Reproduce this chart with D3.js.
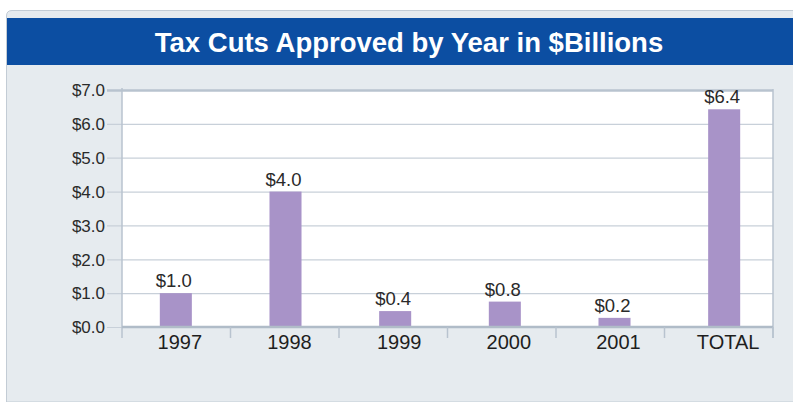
<!DOCTYPE html>
<html>
<head>
<meta charset="utf-8">
<script src="https://cdn.jsdelivr.net/npm/d3@7"></script>
<style>
  html, body { margin: 0; padding: 0; background: #ffffff; }
  svg { display: block; }
</style>
</head>
<body>
<svg id="chart" width="793" height="402"></svg>
<script>
const categories = ["1997", "1998", "1999", "2000", "2001", "TOTAL"];
const values = [1.0, 4.0, 0.47, 0.75, 0.27, 6.43];
const valueLabels = ["$1.0", "$4.0", "$0.4", "$0.8", "$0.2", "$6.4"];
const yTicks = [0, 1, 2, 3, 4, 5, 6, 7];
const title = "Tax Cuts Approved by Year in $Billions";

const svg = d3.select("#chart");
const font = "'Liberation Sans', Arial, Helvetica, sans-serif";

// panel
svg.append("path")
  .attr("d", "M6.5,402 L6.5,16 Q6.5,10.5 12,10.5 L800,10.5 L800,402 Z")
  .attr("fill", "#e6ebef").attr("stroke", "#c3ccd5").attr("stroke-width", 1);
svg.append("rect").attr("x", 7).attr("y", 18).attr("width", 800).attr("height", 47)
  .attr("fill", "#0c4ea2");
svg.append("text").attr("x", 409).attr("y", 52)
  .attr("text-anchor", "middle").attr("font-family", font).attr("font-weight", "bold")
  .attr("font-size", 27.5).attr("fill", "#ffffff").text(title);

const plot = { left: 122, right: 773, top: 90, bottom: 327 };

const y = d3.scaleLinear().domain([0, 7]).range([plot.bottom, plot.top]);
const xGrid = d3.scaleBand().domain(categories).range([plot.left, plot.right]).padding(0);
const xBar = d3.scaleBand().domain(categories).range([121, 779]).paddingInner(0.708).paddingOuter(0.354);

// plot background
svg.append("rect").attr("x", plot.left).attr("y", plot.top)
  .attr("width", plot.right - plot.left).attr("height", plot.bottom - plot.top).attr("fill", "#ffffff");

// gridlines + y axis labels
const yAxis = d3.axisLeft(y).tickValues(yTicks).tickSize(plot.right - 107)
  .tickFormat(d => "$" + d.toFixed(1)).tickPadding(2);
const gy = svg.append("g").attr("transform", `translate(${plot.right},0)`).call(yAxis);
gy.select(".domain").remove();
gy.selectAll(".tick line").attr("stroke", "#c8d0d9").attr("stroke-width", 1.2);
gy.selectAll(".tick line").filter(d => d === 7).attr("stroke", "#b8c3cf").attr("stroke-width", 2.5);
gy.selectAll(".tick text").attr("font-family", font).attr("font-size", 17)
  .attr("fill", "#2a2a2a").attr("dy", "0.34em");

// left axis and right border
svg.append("line").attr("x1", plot.left).attr("x2", plot.left).attr("y1", 88).attr("y2", 338)
  .attr("stroke", "#b8c3cf").attr("stroke-width", 1.5);
svg.append("line").attr("x1", plot.right).attr("x2", plot.right).attr("y1", 89).attr("y2", 338)
  .attr("stroke", "#b8c3cf").attr("stroke-width", 1.5);

// bars
svg.append("g").selectAll("rect").data(categories).join("rect")
  .attr("x", d => xBar(d))
  .attr("width", xBar.bandwidth())
  .attr("y", (d, i) => y(values[i]))
  .attr("height", (d, i) => y(0) - y(values[i]))
  .attr("fill", "#a893c8");

// bar value labels
svg.append("g").selectAll("text").data(categories).join("text")
  .attr("x", d => xBar(d) + xBar.bandwidth() / 2 - 2)
  .attr("y", (d, i) => y(values[i]) - 6)
  .attr("text-anchor", "middle").attr("font-family", font).attr("font-size", 18.5)
  .attr("fill", "#2a2a2a").text((d, i) => valueLabels[i]);

// baseline
svg.append("line").attr("x1", plot.left).attr("x2", plot.right).attr("y1", y(0)).attr("y2", y(0))
  .attr("stroke", "#b0bcc8").attr("stroke-width", 2.5);

// category separators
const xAxis = d3.axisBottom(xGrid).tickSize(0).tickFormat("");
svg.append("g").selectAll("line").data(categories).join("line")
  .attr("x1", d => xGrid(d) + xGrid.bandwidth()).attr("x2", d => xGrid(d) + xGrid.bandwidth())
  .attr("y1", y(0)).attr("y2", 338)
  .attr("stroke", "#b8c3cf").attr("stroke-width", 1.5);

// category labels
svg.append("g").selectAll("text").data(categories).join("text")
  .attr("x", d => xBar(d) + xBar.bandwidth() / 2 + 4)
  .attr("y", 349)
  .attr("text-anchor", "middle").attr("font-family", font).attr("font-size", 20)
  .attr("fill", "#1e1e1e").text(d => d);
</script>
</body>
</html>
